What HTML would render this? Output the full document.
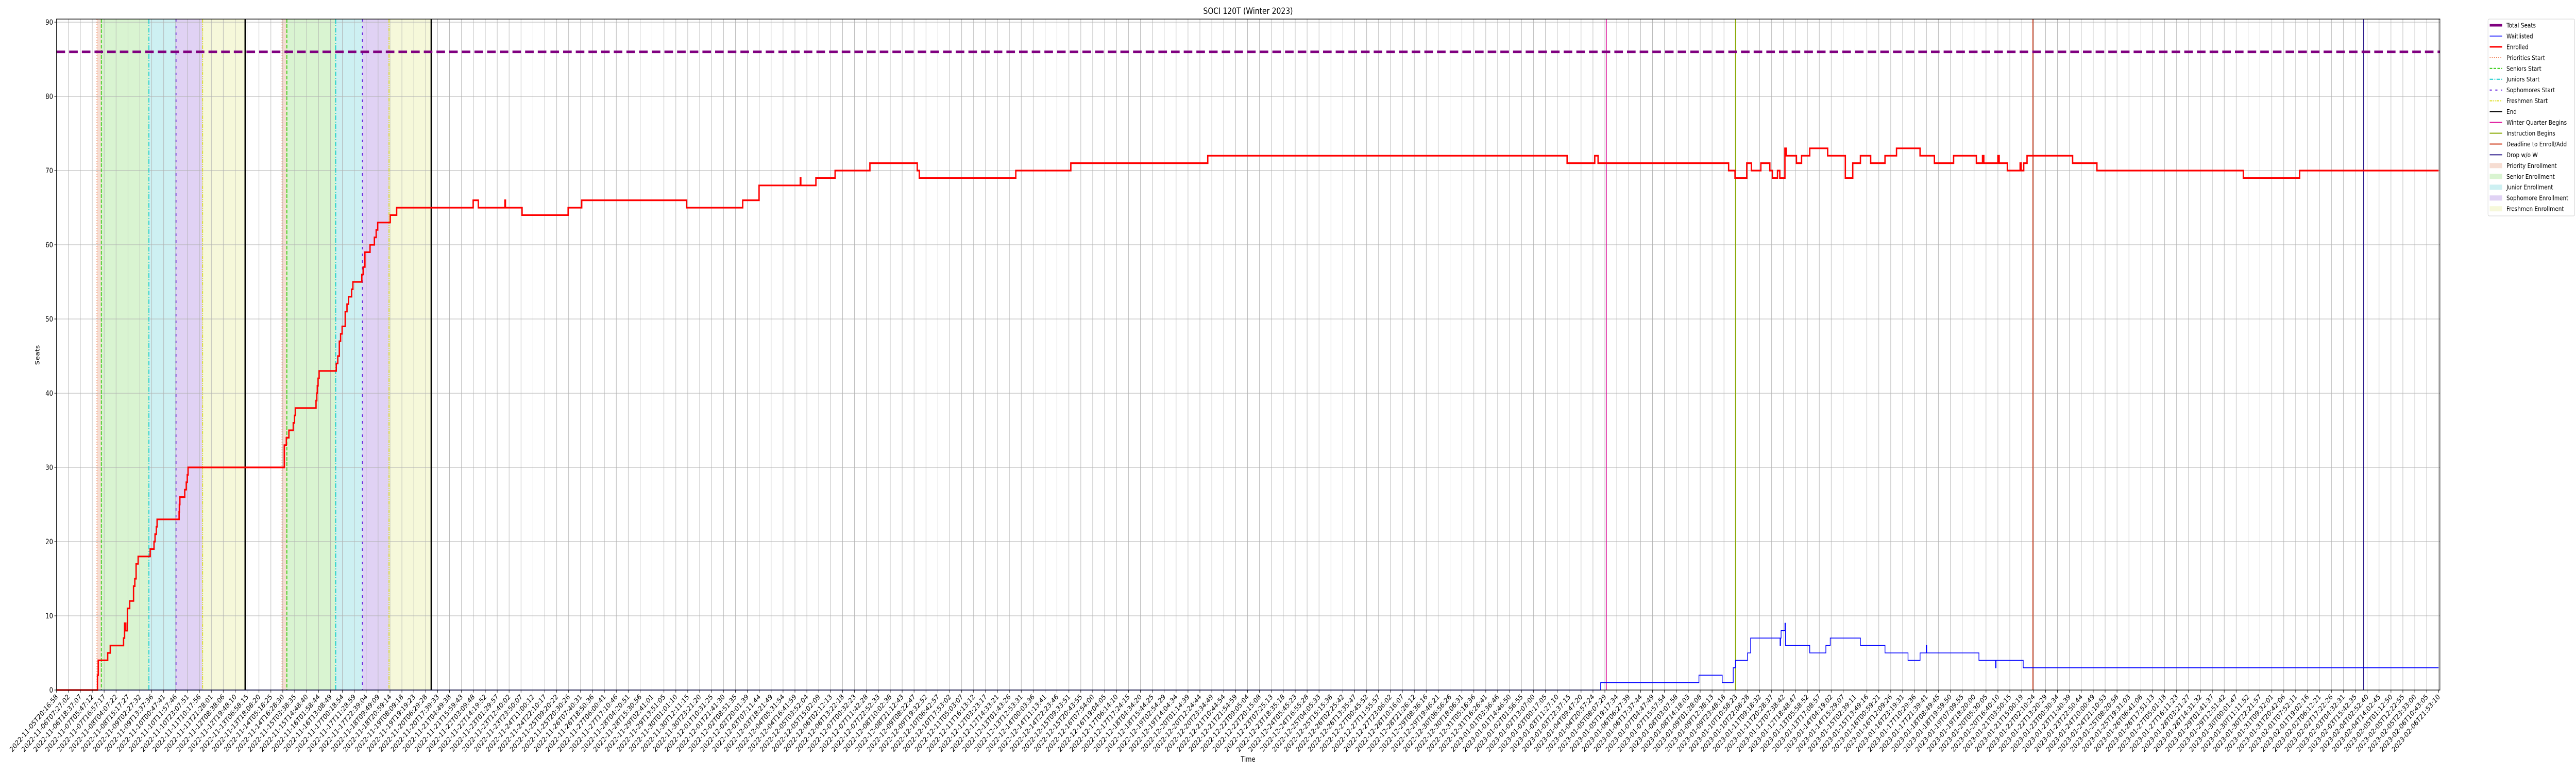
<!DOCTYPE html>
<html><head><meta charset="utf-8">
<style>
html,body{margin:0;padding:0;background:#fff;overflow:hidden;}
svg{display:block;font-family:"DejaVu Sans","Liberation Sans",sans-serif;overflow:hidden;width:100vw;height:100vh;}
</style></head>
<body>
<svg id="chart" viewBox="0 0 6000 1500" preserveAspectRatio="none" xmlns="http://www.w3.org/2000/svg">
<rect width="6000" height="1500" fill="#fff"/>
<g id="spans"></g><g id="grid"></g><g id="vlines"></g><g id="series"></g><g id="axes"></g><g id="legend"></g>
</svg>
<script>
// ---- data (x in days since 2022-11-05T20:16:58) ----
const totalSeats = 86;
const enrolledX = [0,1.60,1.63,2.00,2.10,2.62,2.66,2.69,2.76,2.77,2.86,3.01,3.06,3.11,3.19,3.66,3.81,3.85,3.90,3.93,4.79,4.80,4.82,5.01,5.07,5.11,5.14,
 8.90,8.98,9.08,9.25,9.30,9.33,10.14,10.17,10.19,10.22,10.26,10.93,10.99,11.05,11.10,11.16,11.28,11.35,11.41,11.53,11.58,11.93,11.98,12.05,12.25,12.42,12.49,12.55,13.04,13.29,
 16.28,16.48,17.52,17.54,18.19,19.99,20.52,24.62,26.81,27.45,29.06,29.08,29.67,30.42,31.78,33.63,33.71,37.48,39.63,44.98,59.02,60.10,60.23,
 65.33,65.58,66.04,66.22,66.59,66.94,67.04,67.24,67.33,67.53,67.58,67.98,68.18,68.50,69.20,69.89,70.18,70.48,70.88,71.44,71.89,72.81,73.37,74.12,75.01,75.25,75.30,75.85,75.90,76.22,76.72,76.76,76.86,76.99,78.77,79.72,85.44,87.64];
const enrolledY = [0,2,4,5,6,7,9,8,9,11,12,14,15,17,18,19,20,21,22,23,24,25,26,27,28,29,30,
 33,34,35,36,37,38,39,40,41,42,43,44,45,47,48,49,51,52,53,54,55,56,57,59,60,61,62,63,64,65,
 66,65,66,65,64,65,66,65,66,68,69,68,69,70,71,70,69,70,71,72,71,72,71,
 70,69,71,70,71,70,69,70,69,73,72,71,72,73,72,69,71,72,71,72,73,72,71,72,71,72,71,72,71,70,71,70,71,72,71,70,69,70];
const waitX = [0,60.33,64.17,65.08,65.51,65.60,66.07,66.19,67.34,67.36,67.38,67.53,67.55,68.50,69.13,69.30,70.48,71.44,72.34,72.81,73.05,73.07,75.11,75.76,75.78,76.84];
const waitY = [0,1,2,1,3,4,5,7,6,7,8,9,6,5,6,7,6,5,4,5,6,5,4,3,4,3];
const xEnd = 93.07;
const periodStarts = [[1.58,1.75,3.61,4.67,5.71,7.37],[8.81,9.00,10.91,11.95,12.99,14.64]];
const winterBegins = 60.55, instructionBegins = 65.60, deadlineAdd = 77.22, dropNoW = 90.14;
const yTicks = [0,10,20,30,40,50,60,70,80,90];
const tickCount = 201;
const t0 = Date.UTC(2022,10,5,20,16,58), t1 = Date.UTC(2023,1,6,21,53,10);

// ---- scales ----
const L=131.6, R=5680, axR=5683, TOP=37, Y0=1339, PPU=14.4;
const X = d => L + d/xEnd*(R-L);
const Y = v => Y0 - v*PPU;
const NS="http://www.w3.org/2000/svg";
function mk(tag, attrs, parent){const e=document.createElementNS(NS,tag);for(const k in attrs)e.setAttribute(k,attrs[k]);parent.appendChild(e);return e;}
const gs=document.getElementById('spans'),gg=document.getElementById('grid'),gv=document.getElementById('vlines'),gsr=document.getElementById('series'),ga=document.getElementById('axes'),gl=document.getElementById('legend');

const spanColors=['#f6ddd2','#d9f4d1','#cdf0f2','#e0d2f4','#f6f8da'];
const spanNames=['priority-enrollment-span','senior-enrollment-span','junior-enrollment-span','sophomore-enrollment-span','freshmen-enrollment-span'];
periodStarts.forEach((p,pi)=>{for(let i=0;i<5;i++){
  const r=mk('rect',{x:X(p[i]),y:TOP,width:X(p[i+1])-X(p[i]),height:Y0-TOP,fill:spanColors[i]},gs);
  
  
}});

// grid
for(let i=0;i<tickCount;i++){
  const x=L+i*(R-L)/(tickCount-1);
  const l=mk('line',{x1:x,x2:x,y1:TOP,y2:Y0,stroke:'#b0b0b0','stroke-width':1},gg);
  
  
}
yTicks.forEach(v=>{
  const l=mk('line',{x1:L,x2:axR,y1:Y(v),y2:Y(v),stroke:'#b0b0b0','stroke-width':1},gg);
  
  
});

// vertical marker lines
const vStyles=[['#ee6633','2,3',1.5,'priorities-start-line'],['#33cc11','7,3',2,'seniors-start-line'],['#11cccc','9,3,2,3',2,'juniors-start-line'],['#6622dd','5,8',2,'sophomores-start-line'],['#dddd22','7,2,2,2,2,2',2,'freshmen-start-line'],['#000','',3,'end-line']];
periodStarts.forEach(p=>{p.forEach((d,i)=>{
  const s=vStyles[i];
  const l=mk('line',{x1:X(d),x2:X(d),y1:TOP,y2:Y0,stroke:s[0],'stroke-width':s[2],'stroke-dasharray':s[1]},gv);
  
  
});});
[[winterBegins,'#dd1199','winter-quarter-begins-line'],[instructionBegins,'#88aa00','instruction-begins-line'],[deadlineAdd,'#cc3311','deadline-enroll-line'],[dropNoW,'#2a1a8a','drop-without-w-line']].forEach(a=>{
  const l=mk('line',{x1:X(a[0]),x2:X(a[0]),y1:TOP,y2:Y0,stroke:a[1],'stroke-width':2},gv);
  
  
});

// series
function stepPath(xs,ys){let d='M'+X(xs[0])+','+Y(ys[0]);for(let i=1;i<xs.length;i++){d+=' H'+X(xs[i])+' V'+Y(ys[i]);}d+=' H'+X(xEnd);return d;}
const ts=mk('line',{x1:L,x2:axR,y1:Y(totalSeats),y2:Y(totalSeats),stroke:'#800080','stroke-width':5,'stroke-dasharray':'20,9.5'},gsr);


const wl=mk('path',{d:stepPath(waitX,waitY),fill:'none',stroke:'#0000ff','stroke-width':1.6},gsr);


const el=mk('path',{d:stepPath(enrolledX,enrolledY),fill:'none',stroke:'#ff0000','stroke-width':3.2},gsr);



// axes frame
const fr=mk('rect',{x:L,y:TOP,width:axR-L,height:Y0-TOP,fill:'none',stroke:'#000','stroke-width':1.3},ga);


yTicks.forEach(v=>{
  mk('line',{x1:L-5,x2:L,y1:Y(v),y2:Y(v),stroke:'#000','stroke-width':1},ga);
  const t=mk('text',{x:L-8,y:Y(v)+5,'font-size':13.9,'text-anchor':'end',fill:'#000'},ga);
  t.textContent=v;
  
  
});
function fmt(ms){const d=new Date(ms);const p=n=>String(n).padStart(2,'0');return d.getUTCFullYear()+'-'+p(d.getUTCMonth()+1)+'-'+p(d.getUTCDate())+'T'+p(d.getUTCHours())+':'+p(d.getUTCMinutes())+':'+p(d.getUTCSeconds());}
for(let i=0;i<tickCount;i++){
  const x=L+i*(R-L)/(tickCount-1);
  mk('line',{x1:x,x2:x,y1:Y0,y2:Y0+5,stroke:'#000','stroke-width':1},ga);
  const t=mk('text',{x:x+4,y:Y0+14,'font-size':13.9,'text-anchor':'end',transform:'rotate(-45 '+(x+4)+' '+(Y0+14)+')',fill:'#000'},ga);
  t.textContent=fmt(t0+i*(t1-t0)/(tickCount-1));
  
  
}

// titles
const ttl=mk('text',{x:2907,y:27,'font-size':16.7,'text-anchor':'middle',fill:'#000'},ga);
ttl.textContent='SOCI 120T (Winter 2023)';


const xl=mk('text',{x:2907,y:1478,'font-size':13.9,'text-anchor':'middle',fill:'#000'},ga);
xl.textContent='Time';


const yl=mk('text',{x:92,y:689,'font-size':13.9,'text-anchor':'middle',fill:'#000',transform:'rotate(-90 92 689)'},ga);
yl.textContent='Seats';



// legend
const box=mk('rect',{x:5795,y:37,width:202,height:382,rx:3,fill:'#fff',stroke:'#d0d0d0','stroke-width':1},gl);


const items=[
 ['Total Seats','line','#800080',5,''],['Waitlisted','line','#0000ff',1.5,''],['Enrolled','line','#ff0000',3,''],
 ['Priorities Start','line','#ee6633',1.5,'2,3'],['Seniors Start','line','#33cc11',2,'6,3'],['Juniors Start','line','#11cccc',2,'8,3,2,3'],
 ['Sophomores Start','line','#6622dd',2,'5,8'],['Freshmen Start','line','#dddd22',2,'6,2,2,2,2,2'],['End','line','#000',2,''],
 ['Winter Quarter Begins','line','#dd1199',2,''],['Instruction Begins','line','#88aa00',2,''],['Deadline to Enroll/Add','line','#cc3311',2,''],
 ['Drop w/o W','line','#2a1a8a',2,''],['Priority Enrollment','patch','#f6ddd2'],['Senior Enrollment','patch','#d9f4d1'],
 ['Junior Enrollment','patch','#cdf0f2'],['Sophomore Enrollment','patch','#e0d2f4'],['Freshmen Enrollment','patch','#f6f8da']];
items.forEach((it,i)=>{
  const y=49+i*20.95;
  let h;
  if(it[1]==='line'){
    h=mk('line',{x1:5799,x2:5828,y1:y,y2:y,stroke:it[2],'stroke-width':it[3]},gl);
    if(it[4])h.setAttribute('stroke-dasharray',it[4]);
  } else {
    h=mk('rect',{x:5799,y:y-5,width:29,height:10,fill:it[2]},gl);
  }
  
  
  const t=mk('text',{x:5838,y:y+4.5,'font-size':12.6,fill:'#000'},gl);
  t.textContent=it[0];
  
  
});
</script>
</body></html>
